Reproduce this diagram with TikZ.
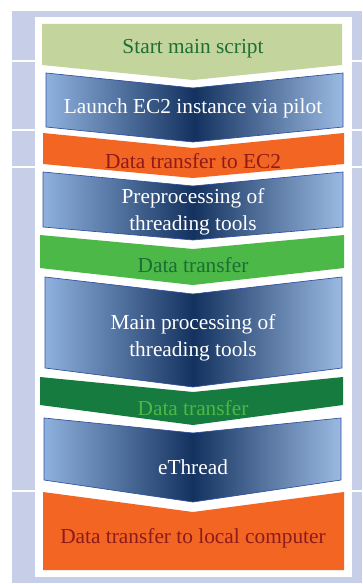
\documentclass[tikz,border=0pt]{standalone}
\usepackage{fontspec}
\setmainfont{Liberation Serif}
\definecolor{lav}{HTML}{C6CFE7}
\definecolor{sage}{HTML}{C3D49D}
\definecolor{sagetxt}{HTML}{1F6F35}
\definecolor{flame}{HTML}{F26522}
\definecolor{flametxt}{HTML}{8E1B1B}
\definecolor{leaf}{HTML}{4CB847}
\definecolor{leaftxt}{HTML}{1B6E34}
\definecolor{pine}{HTML}{167B3E}
\definecolor{skyL}{HTML}{8FB1DE}
\definecolor{skyR}{HTML}{9BBAE2}
\definecolor{navy}{HTML}{14325F}
\definecolor{rim}{HTML}{3050A0}
\begin{document}
\begin{tikzpicture}[x=0.75pt, y=-0.75pt, font=\fontsize{16}{20}\selectfont,
  bluebox/.style={left color=skyL, right color=skyR, middle color=navy,
    draw=rim, line width=0.5pt},
  lbl/.style={align=center, inner sep=0pt}]
  \useasboundingbox (0,0) rectangle (362,584);
  % background panel with its row rules
  \fill[lav] (12,11) rectangle (362,583);
  \foreach \y in {61,130,167,491}
    \draw[white, line width=1.4pt] (12,\y) -- (362,\y);
  \fill[white] (35,17) rectangle (352,577);
  % chevrons, top to bottom: left x, right x, notch tip at x=193
  \fill[sage] (42,24) -- (342,24) -- (342,65) -- (193,80) -- (42,65) -- cycle;
  \path[bluebox] (46,73) -- (193,88) -- (343,73) -- (343,127) -- (193,142) -- (46,127) -- cycle;
  \fill[flame] (43,133) -- (193,148) -- (344,133) -- (344,164) -- (193,178) -- (43,164) -- cycle;
  \path[bluebox] (43,172) -- (193,186) -- (343,172) -- (343,227) -- (193,240) -- (43,227) -- cycle;
  \fill[leaf] (40,235) -- (193,249) -- (344,235) -- (344,268) -- (193,285) -- (40,268) -- cycle;
  \path[bluebox] (45,277) -- (193,294) -- (342,277) -- (342,368) -- (193,387) -- (45,368) -- cycle;
  \fill[pine] (40,377) -- (193,392) -- (343,377) -- (343,405) -- (193,425) -- (40,405) -- cycle;
  \path[bluebox] (44,418) -- (193,433) -- (341,418) -- (341,480) -- (193,502) -- (44,480) -- cycle;
  \fill[flame] (43,492) -- (193,512) -- (344,492) -- (344,570) -- (43,570) -- cycle;
  % labels
  \node[lbl, text=sagetxt] (start) at (193,49) {Start main script};
  \node[lbl, text=white] (launch) at (193,108) {Launch EC2 instance via pilot};
  \node[lbl, text=flametxt] (toec2) at (193,161) {Data transfer to EC2};
  \node[lbl, text=white] (prep) at (193,212) {Preprocessing of\\threading tools};
  \node[lbl, text=leaftxt] (xfer1) at (193,265) {Data transfer};
  \node[lbl, text=white] (mainproc) at (193,338) {Main processing of\\threading tools};
  \node[lbl, text=leaf] (xfer2) at (193,408) {Data transfer};
  \node[lbl, text=white] (ethread) at (193,467) {eThread};
  \node[lbl, text=flametxt] (tolocal) at (193,538) {Data transfer to local computer};
\end{tikzpicture}
\end{document}
